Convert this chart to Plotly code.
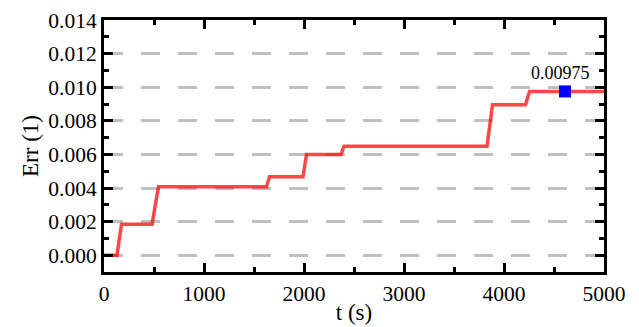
import plotly.graph_objects as go

# Data
t_vals = [0, 130, 175, 480, 545, 1625, 1655, 1990, 2025, 2370, 2400, 3830, 3885, 4215, 4255, 5000]
err_vals = [0, 0, 0.00184, 0.00184, 0.00408, 0.00408, 0.00467, 0.00467, 0.00600, 0.00600,
            0.00648, 0.00648, 0.00895, 0.00895, 0.00975, 0.00975]
marker_t = [4610]
marker_err = [0.00975]
marker_label = "0.00975"

x_ticks = [0, 1000, 2000, 3000, 4000, 5000]
y_ticks = [0.000, 0.002, 0.004, 0.006, 0.008, 0.010, 0.012, 0.014]

FONT = "Liberation Serif"

fig = go.Figure()
fig.add_trace(go.Scatter(x=t_vals, y=err_vals, mode="lines",
                         line=dict(color="rgba(255,0,0,0.72)", width=3.5),
                         showlegend=False, hoverinfo="skip", cliponaxis=False))
fig.add_trace(go.Scatter(x=marker_t, y=marker_err, mode="markers",
                         marker=dict(symbol="square", size=12, color="#0000ff",
                                     line=dict(width=0)),
                         showlegend=False))
fig.add_annotation(x=marker_t[0] - 50, y=marker_err[0], text=marker_label, showarrow=False,
                   yshift=18, font=dict(family=FONT, size=18, color="black"))

axis_common = dict(
    showline=True, linecolor="black", linewidth=3, mirror="ticks",
    ticks="inside", ticklen=9, tickwidth=3, tickcolor="black",
    tickfont=dict(family=FONT, size=21.5, color="black"),
    zeroline=False, automargin=False,
)

fig.update_xaxes(range=[0, 5000], tickvals=x_ticks, showgrid=False,
                 minor=dict(ticks="inside", ticklen=5, tickwidth=3, tickcolor="black",
                            dtick=500, showgrid=False),
                 title=dict(text="t (s)", font=dict(family=FONT, size=23, color="black"),
                            standoff=0),
                 **axis_common)
fig.update_yaxes(range=[-0.001, 0.014], tickvals=y_ticks, tickformat=".3f",
                 showgrid=True, gridcolor="#c0c0c0", gridwidth=3, griddash="19px,18px",
                 minor=dict(ticks="inside", ticklen=5, tickwidth=3, tickcolor="black",
                            tick0=0.001, dtick=0.002, showgrid=False),
                 title=dict(text="Err (1)", font=dict(family=FONT, size=23, color="black"),
                            standoff=4),
                 **axis_common)

fig.update_layout(width=639, height=327, margin=dict(l=104, r=35, t=20, b=55),
                  plot_bgcolor="white", paper_bgcolor="white",
                  font=dict(family=FONT, color="black"))

fig.write_html("out.html", config={"displayModeBar": False},
               post_script="document.body.style.margin='0';")
